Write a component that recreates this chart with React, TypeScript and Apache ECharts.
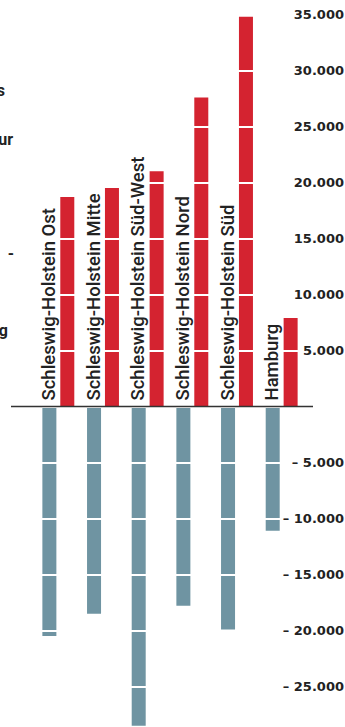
import React, { useEffect, useRef } from "react";
import * as echarts from "echarts";

const categories = [
  "Schleswig-Holstein Ost",
  "Schleswig-Holstein Mitte",
  "Schleswig-Holstein Süd-West",
  "Schleswig-Holstein Nord",
  "Schleswig-Holstein Süd",
  "Hamburg",
];
const positiveValues = [18700, 19500, 21000, 27600, 34800, 7900];
const negativeValues = [-20500, -18500, -28500, -17800, -19900, -11100];
const yMin = -30000;
const yMax = 35000;
const yInterval = 5000;
const leftFragments = ["s", "ur", "-", "g"];

const RED = "#d42330";
const TEAL = "#6f94a2";
const TEXT = "#222222";

function fmt(v: number): string {
  if (v === 0 || v <= yMin) return "";
  const abs = Math.abs(v);
  const s = String(abs).replace(/\B(?=(\d{3})+(?!\d))/g, ".");
  return v < 0 ? "\u2013 " + s : s;
}

export default function App() {
  const ref = useRef<HTMLDivElement>(null);
  useEffect(() => {
    document.body.style.margin = "0";
    document.body.style.overflow = "hidden";
    if (!ref.current) return;
    const chart = echarts.init(ref.current, null, { renderer: "svg" });
    chart.setOption({
      animation: false,
      backgroundColor: "#ffffff",
      grid: { left: 36, right: 41, top: 14.5, height: 728, containLabel: false, outerBoundsMode: "none" },
      xAxis: {
        type: "category",
        data: categories,
        axisLine: { show: false },
        axisTick: { show: false },
        axisLabel: { show: false },
        splitLine: { show: false },
      },
      yAxis: {
        type: "value",
        position: "right",
        min: yMin,
        max: yMax,
        interval: yInterval,
        z: 5,
        axisLine: { show: false },
        axisTick: { show: false },
        axisLabel: {
          formatter: (v: number) => fmt(v),
          align: "right",
          margin: 40,
          fontFamily: "DejaVu Sans",
          fontWeight: "bold",
          fontSize: 13,
          color: TEXT,
        },
        splitLine: { show: true, lineStyle: { color: "#ffffff", width: 2 } },
      },
      series: [
        {
          type: "bar",
          data: negativeValues,
          barWidth: 14,
          barGap: "28%",
          itemStyle: { color: TEAL },
          z: 2,
        },
        {
          type: "bar",
          data: positiveValues,
          barWidth: 14,
          itemStyle: { color: RED },
          z: 2,
        },
        {
          type: "custom",
          z: 10,
          data: categories.map((_, i) => [i, 0]),
          renderItem: (params: any, api: any) => {
            const i = api.value(0);
            const p = api.coord([i, 0]);
            return {
              type: "text",
              x: p[0] - 9.5,
              y: p[1] - 6,
              rotation: Math.PI / 2,
              style: {
                text: categories[i],
                fontFamily: "Roboto",
                fontWeight: 500,
                fontSize: 18.5,
                fill: TEXT,
                align: "left",
                verticalAlign: "middle",
              },
            };
          },
        },
      ],
    });
    const y0 = chart.convertToPixel({ yAxisIndex: 0 }, 0) as number;
    const frag = (text: string, x: number, y: number) => ({
      type: "text",
      x,
      y,
      style: { text, align: "right", verticalAlign: "bottom", fontFamily: "Roboto", fontWeight: "bold", fontSize: 16, fill: TEXT },
    });
    chart.setOption({
      graphic: [
        {
          type: "line",
          z: 20,
          shape: { x1: 11, y1: y0, x2: 313, y2: y0 },
          style: { stroke: "#333333", lineWidth: 1.5 },
        },
        frag(leftFragments[0], 5, 98),
        frag(leftFragments[1], 13, 147),
        frag(leftFragments[2], 14, 261),
        frag(leftFragments[3], 8, 338),
      ],
    });
    return () => chart.dispose();
  }, []);
  return <div ref={ref} style={{ width: 345, height: 727 }} />;
}
